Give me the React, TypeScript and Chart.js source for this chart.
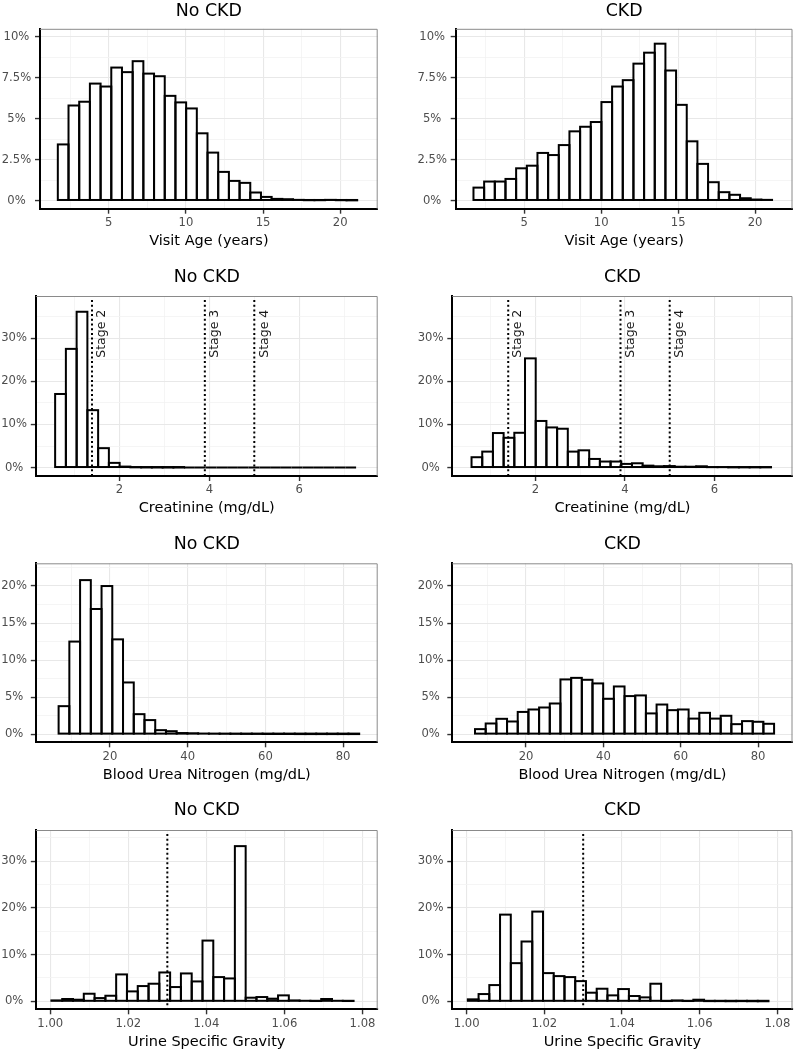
import React, { useEffect, useRef } from "react";
import { Chart, registerables } from "chart.js";

Chart.register(...registerables);

const FONT = '"DejaVu Sans", Verdana, sans-serif';

// ---------------- data ----------------
// Visit age (years), 28 bins
const ageBinStart = 1.7;
const ageBinWidth = 0.6929;
const ageNoCkd = [3.43, 5.81, 6.04, 7.15, 6.97, 8.13, 7.85, 8.52, 7.76, 7.6, 6.4, 6.0, 5.63, 4.11, 2.93, 1.75, 1.2, 1.08, 0.49, 0.22, 0.1, 0.08, 0.04, 0.02, 0.02, 0.04, 0.02, 0.01];
const ageCkd = [0.79, 1.16, 1.16, 1.32, 1.97, 2.13, 2.91, 2.78, 3.39, 4.23, 4.51, 4.8, 6.02, 6.97, 7.36, 8.37, 9.04, 9.59, 7.95, 5.85, 3.62, 2.24, 1.12, 0.51, 0.35, 0.14, 0.06, 0.04];
const ageTicks = [5, 10, 15, 20];
const ageMinorTicks = [2.5, 7.5, 12.5, 17.5];
const agePctTicks = [0, 2.5, 5, 7.5, 10];
const agePctMinorTicks = [1.25, 3.75, 6.25, 8.75];

// Creatinine (mg/dL), 28 bins
const creatBinStart = 0.57;
const creatBinWidth = 0.2391;
const creatNoCkd = [17.05, 27.5, 36.1, 13.3, 4.5, 1.09, 0.23, 0.06, 0.03, 0.02, 0.01, 0.01, 0, 0, 0, 0, 0, 0, 0, 0, 0, 0, 0, 0, 0, 0, 0, 0];
const creatCkd = [2.4, 3.7, 8.0, 6.9, 8.06, 25.3, 10.8, 9.3, 9.0, 3.7, 4.0, 2.0, 1.4, 1.4, 0.85, 1.0, 0.45, 0.3, 0.35, 0.2, 0.2, 0.3, 0.1, 0.1, 0.05, 0.05, 0.05, 0.05];
const creatTicks = [2, 4, 6];
const creatMinorTicks = [1, 3, 5, 7];
const creatPctTicks = [0, 10, 20, 30];
const creatPctMinorTicks = [5, 15, 25, 35];
const creatStages = [1.39, 3.9, 5.0];
const creatStageLabels = ["Stage 2", "Stage 3", "Stage 4"];
const creatStageLabelY = 31;

// Blood urea nitrogen (mg/dL), 28 bins
const bunBinStart = 6.8;
const bunBinWidth = 2.762;
const bunNoCkd = [3.78, 12.5, 20.8, 16.9, 20.0, 12.8, 6.98, 2.7, 1.9, 0.54, 0.4, 0.15, 0.12, 0.08, 0.06, 0.05, 0.04, 0.03, 0.03, 0.02, 0.02, 0.02, 0.01, 0.01, 0.01, 0.01, 0.01, 0.01];
const bunCkd = [0.68, 1.44, 2.07, 1.71, 3.0, 3.33, 3.6, 4.14, 7.39, 7.6, 7.34, 6.85, 4.77, 6.44, 5.14, 5.23, 2.8, 4.0, 3.24, 3.33, 2.1, 2.88, 2.1, 2.48, 1.35, 1.76, 1.67, 1.4];
const bunTicks = [20, 40, 60, 80];
const bunMinorTicks = [10, 30, 50, 70];
const bunPctTicks = [0, 5, 10, 15, 20];
const bunPctMinorTicks = [2.5, 7.5, 12.5, 17.5, 22.5];

// Urine specific gravity, 28 bins
const usgBinStart = 1.0003;
const usgBinWidth = 0.002765;
const usgNoCkd = [0.2, 0.5, 0.35, 1.63, 0.7, 1.2, 5.76, 2.13, 3.27, 3.77, 6.18, 3.06, 5.97, 4.26, 13.0, 5.19, 4.9, 33.2, 0.78, 0.92, 0.57, 1.28, 0.2, 0.12, 0.07, 0.5, 0.12, 0.07];
const usgCkd = [0.43, 1.56, 3.48, 18.55, 8.17, 12.8, 19.2, 6.04, 5.4, 5.19, 4.33, 1.85, 2.7, 1.28, 2.63, 1.14, 0.85, 3.77, 0.07, 0.2, 0.07, 0.35, 0.05, 0.05, 0.03, 0.05, 0.03, 0.02];
const usgTicks = [1.0, 1.02, 1.04, 1.06, 1.08];
const usgMinorTicks = [1.01, 1.03, 1.05, 1.07];
const usgPctTicks = [0, 10, 20, 30];
const usgPctMinorTicks = [5, 15, 25, 35];
const usgCutoff = [1.03];

const groupTitles = ["No CKD", "CKD"];

// ---------------- layout ----------------
const PAGE_W = 796;
const PAGE_H = 1051;
const COL_W = 398;
const rowLayout = [
  { T: 28.8, B: 208.7, M: 11.6, L: [40, 455.7] },
  { T: 296, B: 476, M: 277, L: [35.8, 452.3] },
  { T: 563.3, B: 742.3, M: 544.2, L: [35.8, 452.3] },
  { T: 830, B: 1009.3, M: 810.4, L: [35.8, 452.3] },
];
const colRight = [377.7, 792.5];
const X_AXIS_H = 41.2;
const TITLE_SIZE = 17.4;
const AXIS_TITLE_SIZE = 14.5;
const TICK_SIZE = 11.6;

type PanelCfg = {
  row: number;
  col: number;
  title: string;
  values: number[];
  binStart: number;
  binWidth: number;
  xMin: number;
  xMax: number;
  xMajor: number[];
  xMinor: number[];
  xFmt: (v: number) => string;
  xTitle: string;
  yMin: number;
  yMax: number;
  yMajor: number[];
  yMinor: number[];
  vlines: number[];
  vlineLabels: string[];
  labelY: number;
};

const pct = (v: number) => `${v}%`;
const plain = (v: number) => `${v}`;
const two = (v: number) => v.toFixed(2);

const rowsSpec = [
  { values: [ageNoCkd, ageCkd], binStart: ageBinStart, binWidth: ageBinWidth, xMin: 0.545, xMax: 22.43, xMajor: ageTicks, xMinor: ageMinorTicks, xFmt: plain, xTitle: "Visit Age (years)", yMin: -0.5, yMax: 10.5, yMajor: agePctTicks, yMinor: agePctMinorTicks, vlines: [] as number[], vlineLabels: [] as string[], labelY: 0 },
  { values: [creatNoCkd, creatCkd], binStart: creatBinStart, binWidth: creatBinWidth, xMin: 0.14, xMax: 7.745, xMajor: creatTicks, xMinor: creatMinorTicks, xFmt: plain, xTitle: "Creatinine (mg/dL)", yMin: -1.95, yMax: 39.75, yMajor: creatPctTicks, yMinor: creatPctMinorTicks, vlines: creatStages, vlineLabels: creatStageLabels, labelY: creatStageLabelY },
  { values: [bunNoCkd, bunCkd], binStart: bunBinStart, binWidth: bunBinWidth, xMin: 0.93, xMax: 88.9, xMajor: bunTicks, xMinor: bunMinorTicks, xFmt: plain, xTitle: "Blood Urea Nitrogen (mg/dL)", yMin: -1.1, yMax: 23.07, yMajor: bunPctTicks, yMinor: bunPctMinorTicks, vlines: [] as number[], vlineLabels: [] as string[], labelY: 0 },
  { values: [usgNoCkd, usgCkd], binStart: usgBinStart, binWidth: usgBinWidth, xMin: 0.9963, xMax: 1.0839, xMajor: usgTicks, xMinor: usgMinorTicks, xFmt: two, xTitle: "Urine Specific Gravity", yMin: -1.7, yMax: 36.65, yMajor: usgPctTicks, yMinor: usgPctMinorTicks, vlines: usgCutoff, vlineLabels: [] as string[], labelY: 0 },
];

const panels: PanelCfg[] = [];
rowsSpec.forEach((r, ri) => {
  [0, 1].forEach((ci) => {
    panels.push({
      row: ri,
      col: ci,
      title: groupTitles[ci],
      values: r.values[ci],
      binStart: r.binStart,
      binWidth: r.binWidth,
      xMin: r.xMin,
      xMax: r.xMax,
      xMajor: r.xMajor,
      xMinor: r.xMinor,
      xFmt: r.xFmt,
      xTitle: r.xTitle,
      yMin: r.yMin,
      yMax: r.yMax,
      yMajor: r.yMajor,
      yMinor: r.yMinor,
      vlines: r.vlines,
      vlineLabels: r.vlineLabels,
      labelY: r.labelY,
    });
  });
});

const isIn = (arr: number[], v: number) => arr.some((m) => Math.abs(m - v) < 1e-9);

// ---------------- plugins ----------------
const panelBorderPlugin = {
  id: "panelBorder",
  afterDatasetsDraw(chart: any) {
    const { ctx, chartArea } = chart;
    ctx.save();
    ctx.strokeStyle = "#8a8a8a";
    ctx.lineWidth = 1;
    ctx.beginPath();
    ctx.moveTo(chartArea.left, chartArea.top + 0.5);
    ctx.lineTo(chartArea.right - 0.5, chartArea.top + 0.5);
    ctx.lineTo(chartArea.right - 0.5, chartArea.bottom);
    ctx.stroke();
    ctx.restore();
  },
};

const outlinePlugin = {
  id: "barOutline",
  afterDatasetsDraw(chart: any) {
    const { ctx } = chart;
    const meta = chart.getDatasetMeta(0);
    ctx.save();
    ctx.strokeStyle = "#000";
    ctx.lineWidth = 2;
    ctx.lineJoin = "miter";
    meta.data.forEach((el: any) => {
      const p = el.getProps(["x", "y", "base", "width"], true);
      const left = p.x - p.width / 2;
      const top = Math.min(p.y, p.base);
      const h = Math.abs(p.base - p.y);
      ctx.strokeRect(left, top, p.width, h);
    });
    ctx.restore();
  },
};

const vlinePlugin = {
  id: "vlines",
  afterDatasetsDraw(chart: any, _args: any, opts: any) {
    const values: number[] = opts.values || [];
    if (!values.length) return;
    const labels: string[] = opts.labels || [];
    const { ctx, chartArea } = chart;
    const xs = chart.scales.x;
    const ys = chart.scales.y;
    ctx.save();
    ctx.strokeStyle = "#000";
    ctx.lineWidth = 2;
    ctx.lineCap = "butt";
    ctx.setLineDash([2, 2.7]);
    values.forEach((v) => {
      const px = xs.getPixelForValue(v);
      ctx.beginPath();
      ctx.moveTo(px, chartArea.top + 4);
      ctx.lineTo(px, chartArea.bottom);
      ctx.stroke();
    });
    ctx.setLineDash([]);
    ctx.fillStyle = "#1a1a1a";
    ctx.font = `12.5px ${FONT}`;
    ctx.textAlign = "center";
    ctx.textBaseline = "middle";
    labels.forEach((lab, i) => {
      const px = xs.getPixelForValue(values[i]);
      const py = ys.getPixelForValue(opts.labelY);
      ctx.save();
      ctx.translate(px + 10, py);
      ctx.rotate(-Math.PI / 2);
      ctx.fillText(lab, 0, 0);
      ctx.restore();
    });
    ctx.restore();
  },
};

// ---------------- components ----------------
function Panel({ cfg }: { cfg: PanelCfg }) {
  const ref = useRef<HTMLCanvasElement | null>(null);
  const lay = rowLayout[cfg.row];
  const X0 = cfg.col * COL_W;
  const Y0 = Math.round(Math.max(0, lay.T - 50));
  const Y1 = Math.round(Math.min(PAGE_H, lay.B + 44));
  const H = Y1 - Y0;
  const W = COL_W;
  const yAxisW = lay.L[cfg.col] - X0;
  const padRight = X0 + W - colRight[cfg.col];
  const padBottom = Y1 - lay.B - X_AXIS_H;
  const tpt = Math.max(0, lay.M - (TITLE_SIZE * 1.2) / 2 - Y0);
  const tpb = lay.T - Y0 - tpt - TITLE_SIZE * 1.2;

  useEffect(() => {
    const canvas = ref.current;
    if (!canvas) return;
    const data = cfg.values.map((v, i) => ({ x: cfg.binStart + cfg.binWidth * (i + 0.5), y: v }));
    const xAll = [...cfg.xMajor, ...cfg.xMinor].sort((a, b) => a - b);
    const yAll = [...cfg.yMajor, ...cfg.yMinor].sort((a, b) => a - b);
    const chart = new Chart(canvas, {
      type: "bar",
      data: {
        datasets: [
          {
            data: data as any,
            backgroundColor: "#ffffff",
            borderWidth: 0,
            barPercentage: 1,
            categoryPercentage: 1,
          },
        ],
      },
      options: {
        responsive: false,
        animation: false,
        devicePixelRatio: 1,
        events: [],
        layout: { padding: { top: 0, left: 0, right: padRight, bottom: padBottom } },
        plugins: {
          legend: { display: false },
          tooltip: { enabled: false },
          title: {
            display: true,
            text: cfg.title,
            fullSize: false,
            color: "#000",
            font: { family: FONT, size: TITLE_SIZE, weight: "normal" },
            padding: { top: tpt, bottom: tpb },
          },
          vlines: { values: cfg.vlines, labels: cfg.vlineLabels, labelY: cfg.labelY },
        } as any,
        scales: {
          x: {
            type: "linear",
            min: cfg.xMin,
            max: cfg.xMax,
            offset: false,
            afterBuildTicks: (s: any) => {
              s.ticks = xAll.map((v) => ({ value: v }));
            },
            afterFit: (s: any) => {
              s.height = X_AXIS_H;
            },
            grid: {
              offset: false,
              drawTicks: true,
              tickLength: 5,
              color: (c: any) => (isIn(cfg.xMajor, c.tick?.value) ? "#e8e8e8" : "#f3f3f3"),
              lineWidth: (c: any) => (isIn(cfg.xMajor, c.tick?.value) ? 1.1 : 0.8),
              tickColor: (c: any) => (isIn(cfg.xMajor, c.tick?.value) ? "#333333" : "rgba(0,0,0,0)"),
              tickWidth: 1.4,
            },
            border: { display: true, color: "#000", width: 2 },
            ticks: {
              autoSkip: false,
              maxRotation: 0,
              minRotation: 0,
              padding: 2.3,
              color: "#4d4d4d",
              font: { family: FONT, size: TICK_SIZE },
              callback: (v: any) => (isIn(cfg.xMajor, Number(v)) ? cfg.xFmt(Number(v)) : ""),
            },
            title: {
              display: true,
              text: cfg.xTitle,
              color: "#000",
              font: { family: FONT, size: AXIS_TITLE_SIZE },
              padding: { top: 0, bottom: 0 },
            },
          } as any,
          y: {
            type: "linear",
            min: cfg.yMin,
            max: cfg.yMax,
            afterBuildTicks: (s: any) => {
              s.ticks = yAll.map((v) => ({ value: v }));
            },
            afterFit: (s: any) => {
              s.width = yAxisW;
            },
            grid: {
              drawTicks: true,
              tickLength: 5,
              color: (c: any) => (isIn(cfg.yMajor, c.tick?.value) ? "#e8e8e8" : "#f3f3f3"),
              lineWidth: (c: any) => (isIn(cfg.yMajor, c.tick?.value) ? 1.1 : 0.8),
              tickColor: (c: any) => (isIn(cfg.yMajor, c.tick?.value) ? "#333333" : "rgba(0,0,0,0)"),
              tickWidth: 1.4,
            },
            border: { display: true, color: "#000", width: 2 },
            ticks: {
              autoSkip: false,
              padding: 3.8,
              crossAlign: "center",
              color: "#4d4d4d",
              font: { family: FONT, size: TICK_SIZE },
              callback: (v: any) => (isIn(cfg.yMajor, Number(v)) ? pct(Number(v)) : ""),
            },
          } as any,
        },
      },
      plugins: [panelBorderPlugin, outlinePlugin, vlinePlugin],
    });
    return () => chart.destroy();
  }, []);

  return (
    <canvas
      ref={ref}
      width={W}
      height={H}
      style={{ position: "absolute", left: X0, top: Y0, width: W, height: H, display: "block" }}
    />
  );
}

export default function App() {
  useEffect(() => {
    document.body.style.margin = "0";
    document.body.style.background = "#ffffff";
  }, []);
  return (
    <div
      style={{
        position: "absolute",
        left: 0,
        top: 0,
        width: PAGE_W,
        height: PAGE_H,
        overflow: "hidden",
        background: "#ffffff",
      }}
    >
      {panels.map((p, i) => (
        <Panel key={i} cfg={p} />
      ))}
    </div>
  );
}
